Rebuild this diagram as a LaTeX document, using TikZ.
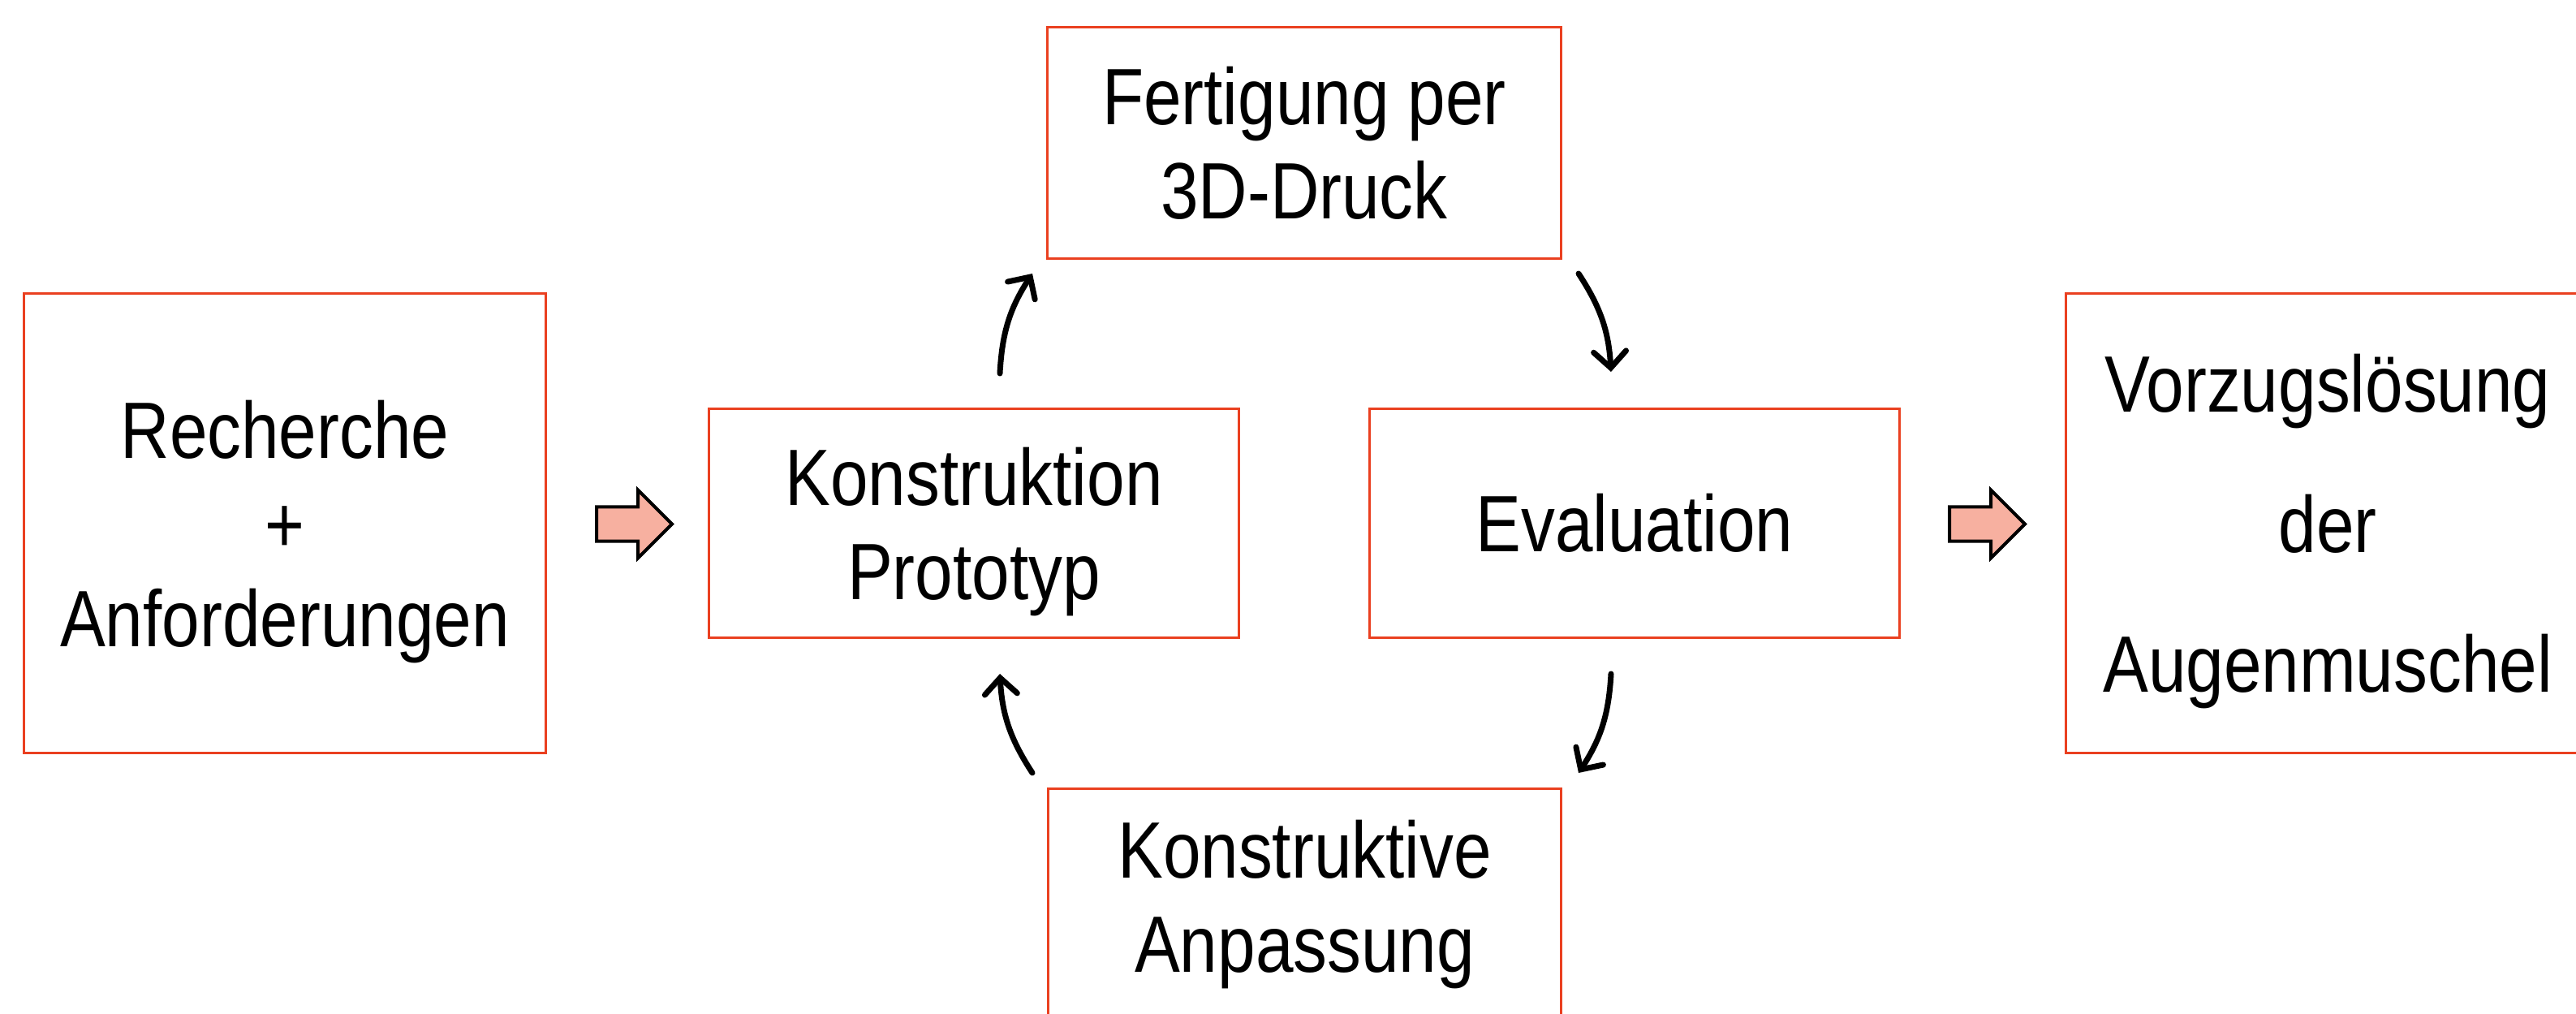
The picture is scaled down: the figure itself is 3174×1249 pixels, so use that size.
\documentclass[tikz,border=0pt]{standalone}
\usepackage{fontspec}
\setmainfont[FakeStretch=0.85]{Liberation Sans}
\usepackage{xcolor}
\usepackage{tikz}
\usetikzlibrary{arrows.meta,positioning,shapes.arrows}
\definecolor{boxred}{RGB}{234,64,32}
\definecolor{arrowfill}{RGB}{247,176,160}
\tikzset{
  procbox/.style={draw=boxred, line width=0.03cm, align=center, inner sep=0pt, minimum width=6.52cm, minimum height=2.81cm, font=\fontsize{28pt}{33pt}\selectfont},
  bigbox/.style={procbox, minimum width=6.42cm, minimum height=5.65cm},
  fatarrow/.style={draw, fill=arrowfill, line width=0.04cm, shape=single arrow, single arrow head extend=0.21cm, minimum height=0.93cm, inner xsep=0pt, inner ysep=0.19cm, text height=0pt, text depth=0pt, anchor=tail},
  cyclearrow/.style={-{Straight Barb[length=0.2cm,width=0.4cm,line cap=round]}, line width=0.07cm, line cap=round}
}

\begin{document}
\begin{tikzpicture}[x=0.01cm, y=-0.01cm]
\useasboundingbox (0,0) rectangle (3174,1249);
\clip (0,0) rectangle (3174,1249);
\node[bigbox, text depth=0pt] (recherche) at (351,644.5) {Recherche\\+\\Anforderungen};
\node[procbox, text depth=0pt] (konstruktion) at (1200,644.5) {Konstruktion\\Prototyp};
\node[procbox] (evaluation) at (2014,644.5) {Evaluation};
\node[procbox, minimum width=6.32cm, minimum height=2.84cm] (fertigung) at (1607,176) {Fertigung per\\3D-Druck};
\node[procbox, minimum width=6.32cm, minimum height=2.84cm] (anpassung) at (1607.5,1114) {Konstruktive\\Anpassung};
\node[bigbox, minimum width=6.44cm, text depth=0pt, font=\fontsize{28pt}{49pt}\selectfont] (vorzug) at (2868,644.5) {Vorzugslösung\\der\\Augenmuschel};
\node[fatarrow] (pfeilein) at (733,645.5) {};
\node[fatarrow] (pfeilaus) at (2400,645.5) {};
% Zyklus
\coordinate (kf1) at (1232,460);
\coordinate (kf2) at (1272,337);
\coordinate (fe1) at (1945,337);
\coordinate (fe2) at (1985,458);
\coordinate (ea1) at (1985,830);
\coordinate (ea2) at (1945,952);
\coordinate (ak1) at (1272,952);
\coordinate (ak2) at (1232,830);
\draw[cyclearrow] (kf1) to[bend left=15] (kf2);
\draw[cyclearrow] (fe1) to[bend left=15] (fe2);
\draw[cyclearrow] (ea1) to[bend left=15] (ea2);
\draw[cyclearrow] (ak1) to[bend left=15] (ak2);
\end{tikzpicture}
\end{document}
